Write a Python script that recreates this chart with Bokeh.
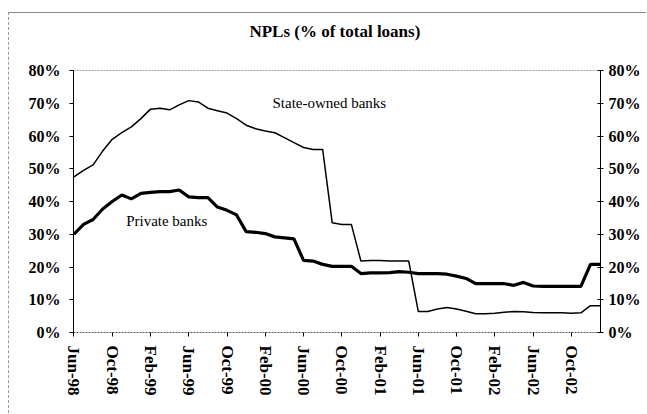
from bokeh.plotting import figure
from bokeh.models import LinearAxis, FixedTicker, Span, Label, Range1d, CustomJSTickFormatter
from bokeh.embed import file_html
from bokeh.resources import INLINE

# Monthly NPL ratios (% of total loans), Jun-98 .. Jan-03
tick_labels = ["Jun-98", "Oct-98", "Feb-99", "Jun-99", "Oct-99", "Feb-00", "Jun-00",
               "Oct-00", "Feb-01", "Jun-01", "Oct-01", "Feb-02", "Jun-02", "Oct-02"]
state_owned = [47.5, 49.5, 51.2, 55.4, 59.0, 61.0, 62.8, 65.3, 68.2, 68.5,
               68.0, 69.5, 70.8, 70.4, 68.5, 67.7, 67.0, 65.3, 63.3, 62.2,
               61.5, 61.0, 59.5, 58.0, 56.5, 55.9, 55.9, 33.5, 33.0, 33.0,
               21.8, 22.0, 22.0, 21.8, 21.8, 21.8, 6.4, 6.4, 7.2, 7.6,
               7.2, 6.5, 5.7, 5.7, 5.9, 6.2, 6.4, 6.3, 6.1, 6.0,
               6.0, 6.0, 5.9, 6.0, 8.2, 8.2]
private = [30.0, 33.0, 34.5, 37.7, 40.0, 42.0, 40.8, 42.5, 42.8, 43.0,
           43.0, 43.5, 41.4, 41.2, 41.2, 38.3, 37.3, 35.9, 30.8, 30.6,
           30.2, 29.2, 28.9, 28.6, 22.0, 21.8, 20.8, 20.2, 20.2, 20.2,
           18.0, 18.2, 18.2, 18.3, 18.6, 18.4, 18.0, 18.0, 18.0, 17.8,
           17.2, 16.5, 14.9, 14.9, 14.9, 14.9, 14.4, 15.3, 14.2, 14.1,
           14.1, 14.1, 14.1, 14.1, 20.8, 20.8]
y_ticks = [0, 10, 20, 30, 40, 50, 60, 70, 80]
title_text = "NPLs (%  of total loans)"

months = list(range(len(state_owned)))
tick_pos = [i * 4 for i in range(len(tick_labels))]

FONT = "Liberation Serif"

# trailing blank line makes the title panel taller so the title sits higher
p = figure(width=638, height=401, output_backend="svg", toolbar_location=None,
           x_range=Range1d(-0.05, len(months) - 1 + 0.05), y_range=Range1d(0, 80),
           min_border_left=64, min_border_right=47, min_border_top=57, min_border_bottom=82,
           title=title_text + "\n")
p.margin = (12, 0, 0, 8)
p.styles = {"border-top": "1px solid #8a8a8a", "border-left": "1px dashed #9a9a9a"}

p.title.align = "center"
p.title.vertical_align = "top"
p.title.text_font = FONT
p.title.text_font_size = "17px"
p.title.text_font_style = "bold"
p.title.text_color = "black"
p.title.text_line_height = 1.0
p.title.standoff = 17

p.outline_line_color = None
p.xgrid.visible = False
p.ygrid.visible = False
p.background_fill_color = "white"
p.border_fill_color = "white"

pct = CustomJSTickFormatter(code="return tick + '%';")

# left axis
ya = p.yaxis[0]
ya.ticker = FixedTicker(ticks=y_ticks)
ya.formatter = pct
ya.axis_line_color = "black"
ya.major_tick_out = 4
ya.major_tick_in = 0
ya.minor_tick_line_color = None
ya.major_label_text_font = FONT
ya.major_label_text_font_size = "16px"
ya.major_label_text_font_style = "bold"
ya.major_label_text_color = "black"
ya.major_label_standoff = 9

# right axis
ra = LinearAxis(ticker=FixedTicker(ticks=y_ticks), formatter=pct)
ra.axis_line_color = "black"
ra.major_tick_out = 3
ra.major_tick_in = 3
ra.minor_tick_line_color = None
ra.major_label_text_font = FONT
ra.major_label_text_font_size = "16px"
ra.major_label_text_font_style = "bold"
ra.major_label_text_color = "black"
ra.major_label_standoff = 5
p.add_layout(ra, "right")

# bottom axis
xa = p.xaxis[0]
xa.ticker = FixedTicker(ticks=tick_pos)
xa.major_label_overrides = {pos: lab for pos, lab in zip(tick_pos, tick_labels)}
xa.major_label_orientation = "vertical"
xa.axis_line_color = "#555555"
xa.axis_line_dash = "2 1"
xa.major_tick_out = 4
xa.major_tick_in = 0
xa.minor_tick_line_color = None
xa.major_label_text_font = FONT
xa.major_label_text_font_size = "17px"
xa.major_label_text_font_style = "bold"
xa.major_label_text_color = "black"
xa.major_label_standoff = 9

# dotted top edge of plot area
p.add_layout(Span(location=80, dimension="width", line_color="#444444",
                  line_dash="2 1", line_width=1))

p.line(months, state_owned, line_color="black", line_width=1.5)
p.line(months, private, line_color="black", line_width=3.2)

p.add_layout(Label(x=26.7, y=70, text="State-owned banks", text_font=FONT,
                   text_font_size="15px", text_align="center", text_baseline="middle",
                   text_color="black"))
p.add_layout(Label(x=9.7, y=34, text="Private banks", text_font=FONT,
                   text_font_size="15px", text_align="center", text_baseline="middle",
                   text_color="black"))

open("out.html", "w").write(file_html(p, INLINE))
